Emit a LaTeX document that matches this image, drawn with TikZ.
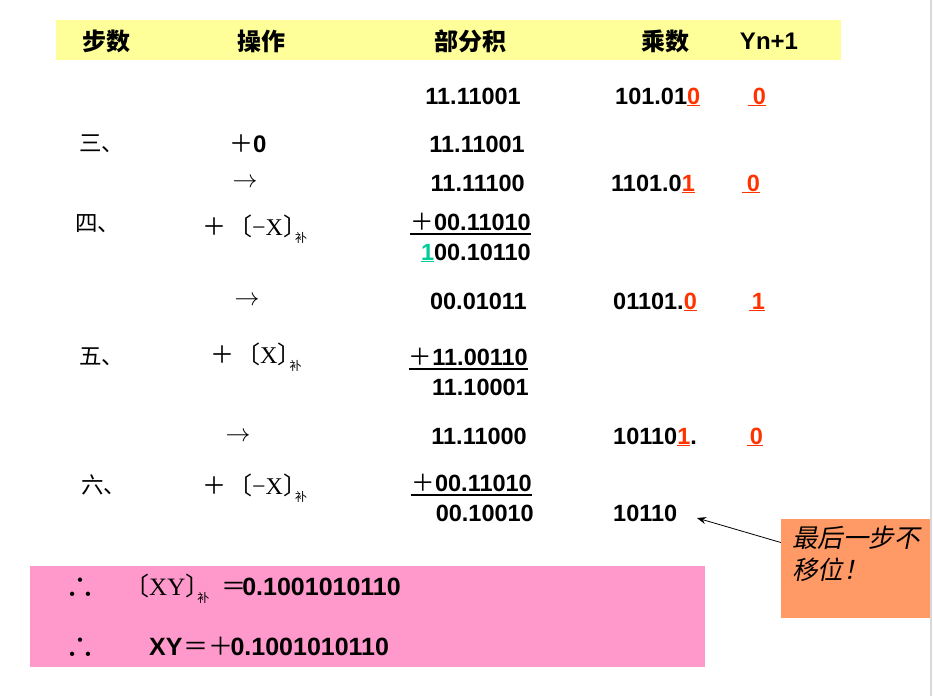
\documentclass[tikz,border=0pt]{standalone}
\usepackage{fontspec}
\usetikzlibrary{arrows.meta}
\setmainfont{Liberation Sans}
\newfontfamily\cjk{Noto Sans CJK SC}
\newfontfamily\cjkit[FakeSlant=0.2]{Noto Sans CJK SC}
\newfontfamily\serif{Liberation Serif}

\definecolor{headyellow}{HTML}{FFFF99}
\definecolor{sumpink}{HTML}{FF99CC}
\definecolor{noteorange}{HTML}{FF9966}
\definecolor{markred}{HTML}{FF3300}
\definecolor{markgreen}{HTML}{00CC99}
\definecolor{edgegray}{HTML}{D9D9D9}

\newcommand\numfont{\fontsize{23.5}{26}\selectfont\bfseries}
\newcommand\cj{\cjk\mdseries}
\newcommand\rd[1]{\textcolor{markred}{\underline{#1}}}
\newcommand\bu{\raisebox{-7pt}{\cj\fontsize{12}{12}\selectfont 补}}
\newcommand\cl{\makebox[12pt][l]{\cj 〕}}
\newcommand\opx[1]{{\cj ＋}\hspace{2pt}{\cj 〔}{\serif #1}\cl\bu}

\begin{document}
\begin{tikzpicture}[
    x=1pt, y=-1pt,
    head/.style={font=\cjk\bfseries\fontsize{24}{26}\selectfont, inner sep=0pt},
    num/.style={font=\numfont, inner sep=0pt},
    bignum/.style={font=\fontsize{25}{27}\selectfont\bfseries, inner sep=0pt},
    steplabel/.style={font=\cj\fontsize{22.5}{24}\selectfont, inner sep=0pt, anchor=west},
    op/.style={font=\fontsize{24}{26}\selectfont, inner sep=0pt},
    shiftop/.style={font=\fontsize{26}{28}\selectfont, inner sep=0pt},
    therefore/.style={font=\cj\fontsize{30}{32}\selectfont, inner sep=0pt},
    sumline/.style={line width=1.2pt},
    notebox/.style={rectangle, fill=noteorange, minimum width=149pt, minimum height=99pt, inner sep=0pt},
    notetext/.style={font=\cjkit\fontsize{25.5}{32}\selectfont, align=left, inner sep=0pt},
    arrow/.style={-{Stealth[length=9pt, width=7pt]}, line width=0.8pt}
]
    \useasboundingbox (0,0) rectangle (933,696);

    % Backgrounds
    \fill[headyellow] (56,20) rectangle (841,60);
    \fill[sumpink] (30,566) rectangle (705,667);
    \draw[edgegray, line width=2pt] (931,0) -- (931,696);

    % Header
    \node[head] (hstep) at (106,41) {步数};
    \node[head] (hop) at (261,41) {操作};
    \node[head] (hpart) at (470,41) {部分积};
    \node[head] (hmul) at (665,41) {乘数};
    \node[num, font=\fontsize{24}{26}\selectfont\bfseries] (hyn) at (769,41) {Yn+1};

    % Step labels
    \node[steplabel] (s3) at (79,144) {三、};
    \node[steplabel] (s4) at (75,224) {四、};
    \node[steplabel] (s5) at (79,357) {五、};
    \node[steplabel] (s6) at (81,485) {六、};

    % Operations
    \node[op, anchor=base west] (o3) at (229,152) {{\cj ＋}\textbf{0}};
    \node[shiftop] (o3s) at (245,183) {$\rightarrow$};
    \node[op, anchor=west] (o4) at (202,229) {\opx{−X}};
    \node[shiftop] (o4s) at (247,301) {$\rightarrow$};
    \node[op, anchor=west] (o5) at (210,357) {\opx{X}};
    \node[shiftop] (o5s) at (238,437) {$\rightarrow$};
    \node[op, anchor=west] (o6) at (202,488) {\opx{−X}};

    % Partial products
    \node[num, anchor=base east] (p0) at (521,104) {11.11001};
    \node[num, anchor=base east] (p3) at (525,152) {11.11001};
    \node[num, anchor=base east] (p3s) at (525,191) {11.11100};
    \node[num, anchor=base east] (p4a) at (531,230) {{\cj ＋}00.11010};
    \node[num, anchor=base east] (p4b) at (531,260) {\textcolor{markgreen}{\underline{1}}00.10110};
    \node[num, anchor=base east] (p4s) at (527,309) {00.01011};
    \node[num, anchor=base east] (p5a) at (528,365) {{\cj ＋}11.00110};
    \node[num, anchor=base east] (p5b) at (529,395) {11.10001};
    \node[num, anchor=base east] (p5s) at (527,444) {11.11000};
    \node[num, anchor=base east] (p6a) at (532,491) {{\cj ＋}00.11010};
    \node[num, anchor=base east] (p6b) at (534,521) {00.10010};

    \draw[sumline] ([yshift=-4pt]p4a.base west) -- ([yshift=-4pt]p4a.base east);
    \draw[sumline] ([yshift=-4pt]p5a.base west) -- ([yshift=-4pt]p5a.base east);
    \draw[sumline] ([yshift=-4pt]p6a.base west) -- ([yshift=-4pt]p6a.base east);

    % Multiplier
    \node[num, anchor=base west] (m0) at (615,104) {101.01\rd{0}};
    \node[num, anchor=base west] (m3) at (611,191) {1101.0\rd{1}};
    \node[num, anchor=base west] (m4) at (613,309) {01101.\rd{0}};
    \node[num, anchor=base west] (m5) at (613,444) {10110\rd{1}.};
    \node[num, anchor=base west] (m6) at (613,521) {10110};

    % Yn+1
    \node[num, anchor=base] (y0) at (757,104) {\rd{\hspace{5pt}0}};
    \node[num, anchor=base] (y3) at (751,191) {\rd{\hspace{5pt}0}};
    \node[num, anchor=base] (y4) at (757,309) {\rd{\hspace{3pt}1}};
    \node[num, anchor=base] (y5) at (755,444) {\rd{\hspace{3pt}0}};

    % Result
    \node[therefore] (thf1) at (80,588) {∴};
    \node[bignum, anchor=base west] (xyc) at (124,595) {{\cj 〔}{\serif\mdseries XY}\cl\bu\hspace{12pt}{\cj ＝}\hspace{-4pt}0.1001010110};
    \node[therefore] (thf2) at (80,648) {∴};
    \node[bignum, anchor=base west] (xyt) at (149,655) {XY\hspace{1pt}{\cj ＝＋}\hspace{-3pt}0.1001010110};

    % Note
    \node[notebox] (note) at (855.5,568.5) {};
    \node[notetext, anchor=north west] (notetxt) at ([xshift=11pt,yshift=-7pt]note.north west) {最后一步不\\移位！};
    \coordinate (tip) at (697,518);
    \draw[arrow] ([yshift=26pt]note.west) -- (tip);

\end{tikzpicture}
\end{document}
